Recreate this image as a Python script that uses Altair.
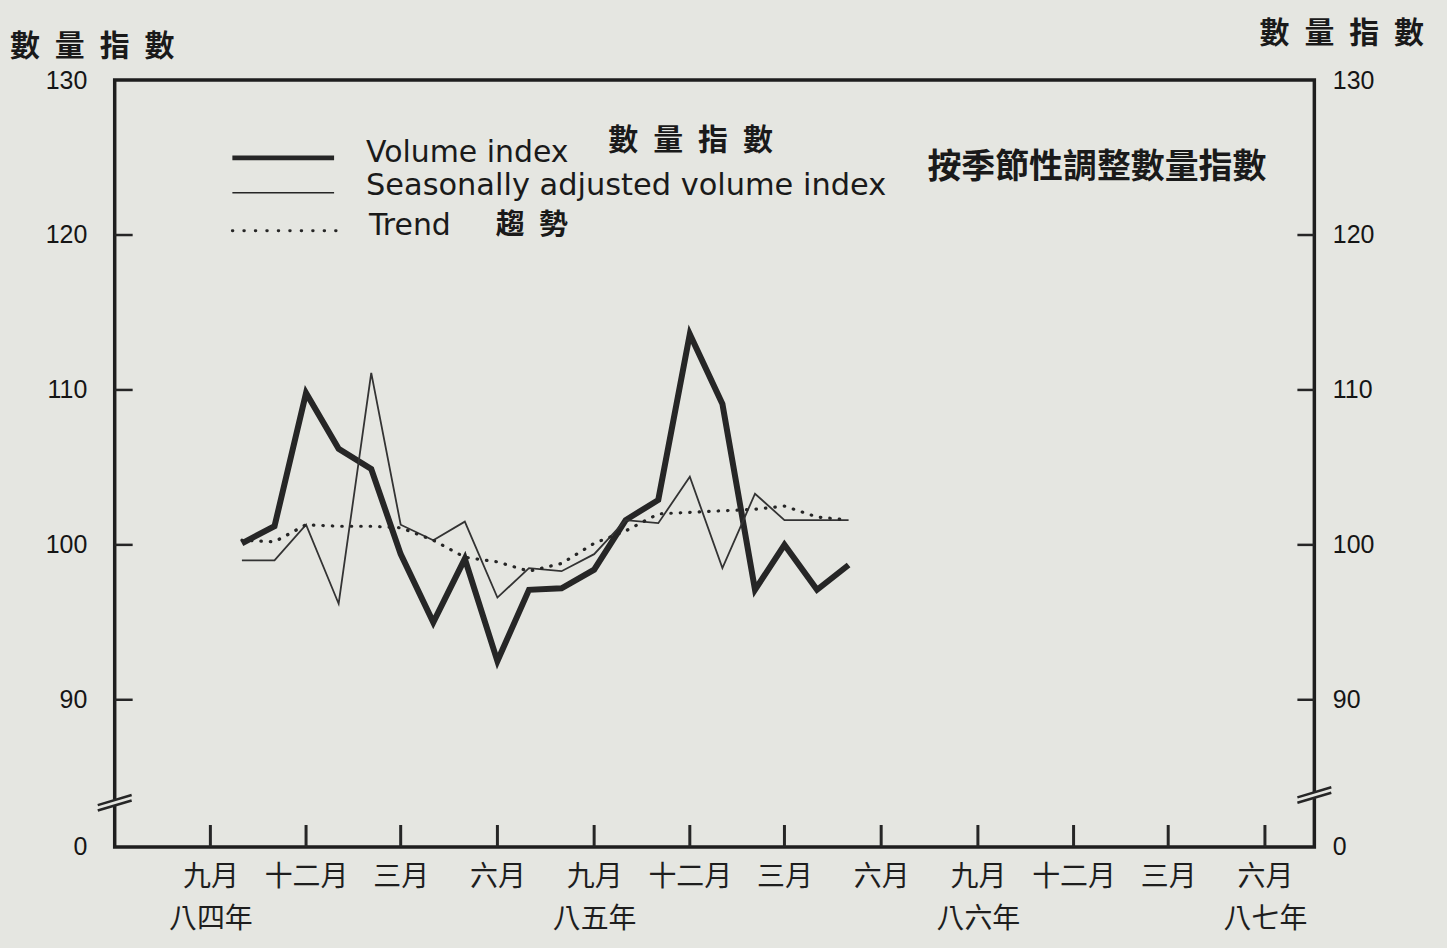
import altair as alt
import pandas as pd

# ---------------- data ----------------
months = ["1984-10", "1984-11", "1984-12", "1985-01", "1985-02", "1985-03",
          "1985-04", "1985-05", "1985-06", "1985-07", "1985-08", "1985-09",
          "1985-10", "1985-11", "1985-12", "1986-01", "1986-02", "1986-03",
          "1986-04", "1986-05"]
volume = [100.1, 101.2, 109.8, 106.2, 104.9, 99.4, 95.0, 99.1, 92.5, 97.1,
          97.2, 98.4, 101.6, 102.9, 113.6, 109.1, 97.1, 100.0, 97.1, 98.7]
adjusted = [99.0, 99.0, 101.3, 96.2, 111.1, 101.3, 100.3, 101.5, 96.6, 98.5,
            98.3, 99.4, 101.6, 101.4, 104.4, 98.5, 103.3, 101.6, 101.6, 101.6]
trend = [100.3, 100.2, 101.3, 101.2, 101.2, 101.1, 100.3, 99.2, 98.9, 98.3,
         98.8, 100.1, 100.9, 102.0, 102.1, 102.2, 102.3, 102.5, 101.8, 101.6]

tick_months = ["1984-09", "1984-12", "1985-03", "1985-06", "1985-09", "1985-12",
               "1986-03", "1986-06", "1986-09", "1986-12", "1987-03", "1987-06"]
month_names = {8: "九月", 11: "十二月", 2: "三月", 5: "六月"}   # JS month index
year_names = {(1984, 8): "八四年", (1985, 8): "八五年",
              (1986, 8): "八六年", (1987, 5): "八七年"}
y_ticks = [90, 100, 110, 120]
y_labels = [80.5, 90, 100, 110, 120, 130]   # 80.5 = broken-axis "0"

df = pd.DataFrame({
    "date": [m + "-01T00:00:00" for m in months],
    "volume": volume, "adjusted": adjusted, "trend": trend,
})
ticks_df = pd.DataFrame({"date": [m + "-01T00:00:00" for m in tick_months]})
yt_df = pd.DataFrame({"v": y_ticks})

# ---------------- geometry / style ----------------
W, H = 1203, 769
INK = "#262626"
BG = "#e5e6e1"
CJK = "Noto Sans CJK TC"
LAT = "DejaVu Sans"
SP = "\u2002"

x_scale = alt.Scale(domain=[alt.DateTime(year=1984, month=6, date=2),
                            alt.DateTime(year=1987, month=7, date=18)])
y_scale = alt.Scale(domain=[80.5, 130], nice=False, zero=False)

m_parts = [f"month(datum.value)=={k}?'{v}'" for k, v in month_names.items()]
m_expr = ":".join(m_parts) + ":''"
y_parts = [f"(year(datum.value)=={yy}&&month(datum.value)=={mm})?'{name}'"
           for (yy, mm), name in year_names.items()]
y_expr = ":".join(y_parts) + ":''"
x_axis = alt.Axis(
    values=[alt.DateTime(year=int(m[:4]), month=int(m[5:]), date=1) for m in tick_months],
    labelExpr=f"[{m_expr}, {y_expr}]",
    ticks=False, domain=False, grid=False, title=None,
    labelFont=CJK, labelFontSize=28, labelColor="#1e1e1e",
    labelLineHeight=42, labelPadding=17, labelFlush=False, labelOverlap=False,
)

num_axis_common = dict(
    values=y_labels, ticks=False, domain=False, grid=False, title=None,
    labelExpr="datum.value < 85 ? '0' : datum.label",
    labelFont="Liberation Sans", labelFontSize=25, labelColor="#151515",
)
left_axis = alt.Axis(orient="left", labelPadding=28, **num_axis_common)
right_axis = alt.Axis(orient="right", labelPadding=18, **num_axis_common)

base = alt.Chart(df)

vol_line = base.mark_line(color=INK, strokeWidth=6, strokeJoin="miter").encode(
    x=alt.X("date:T", scale=x_scale, axis=x_axis),
    y=alt.Y("volume:Q", scale=y_scale, axis=None),
)
adj_line = base.mark_line(color="#333333", strokeWidth=1.8).encode(
    x=alt.X("date:T", scale=x_scale, axis=x_axis),
    y=alt.Y("adjusted:Q", scale=y_scale, axis=None),
)
trend_line = base.mark_line(color=INK, strokeWidth=3.2, strokeDash=[0.5, 9],
                            strokeCap="round").encode(
    x=alt.X("date:T", scale=x_scale, axis=x_axis),
    y=alt.Y("trend:Q", scale=y_scale, axis=None),
)

# inward ticks
bottom_ticks = alt.Chart(ticks_df).mark_rule(color=INK, strokeWidth=3).encode(
    x=alt.X("date:T", scale=x_scale, axis=x_axis),
    y=alt.value(H), y2=alt.value(H - 22),
)
left_ticks = alt.Chart(yt_df).mark_rule(color=INK, strokeWidth=2.5).encode(
    y=alt.Y("v:Q", scale=y_scale, axis=left_axis),
    x=alt.value(0), x2=alt.value(18),
)
right_ticks = alt.Chart(yt_df).mark_rule(color=INK, strokeWidth=2.5).encode(
    y=alt.Y("v:Q", scale=y_scale, axis=right_axis),
    x=alt.value(W - 17), x2=alt.value(W),
)

one = alt.Data(values=[{}])

def brk(x0, x1, ya, yb, color=INK, sw=2.5):
    return alt.Chart(one).mark_rule(color=color, strokeWidth=sw).encode(
        x=alt.value(x0), x2=alt.value(x1),
        y=alt.Y(datum=ya, scale=y_scale, axis=None),
        y2=alt.Y2(datum=yb),
    )

def gap(xp, ya, yb):
    return alt.Chart(one).mark_rule(color=BG, strokeWidth=7).encode(
        x=alt.value(xp),
        y=alt.Y(datum=ya, scale=y_scale, axis=None),
        y2=alt.Y2(datum=yb),
    )

breaks = [
    gap(0, 83.15, 83.55),
    brk(-17, 17, 82.85, 83.5), brk(-17, 17, 83.2, 83.85),
    gap(W, 83.65, 84.05),
    brk(W - 17, W + 17, 83.35, 84.0), brk(W - 17, W + 17, 83.7, 84.35),
]

# legend and axis titles (drawn by hand)
def seg(x0, x1, yp, **kw):
    return alt.Chart(one).mark_rule(color=INK, **kw).encode(
        x=alt.value(x0), x2=alt.value(x1), y=alt.value(yp))

def txt(s, xp, yp, font, size, weight="normal", align="left"):
    return alt.Chart(one).mark_text(
        text=s, font=font, fontSize=size, fontWeight=weight, color="#1a1a1a",
        align=align, baseline="middle").encode(x=alt.value(xp), y=alt.value(yp))

texts = [
    txt(SP.join("數量指數"), -105, -33, CJK, 30, "bold"),
    txt(SP.join("數量指數"), W + 110, -46, CJK, 30, "bold", align="right"),
    seg(118, 220, 78, strokeWidth=5),
    seg(118, 220, 113, strokeWidth=1.6),
    seg(118, 222, 151, strokeWidth=3, strokeDash=[0.5, 11], strokeCap="round"),
    txt("Volume index", 252, 73, LAT, 30),
    txt(SP.join("數量指數"), 495, 61, CJK, 30, "bold"),
    txt("Seasonally adjusted volume index", 252, 106, LAT, 30.5),
    txt("按季節性調整數量指數", 815, 88, CJK, 34, "bold"),
    txt("Trend", 255, 146, LAT, 30),
    txt(SP.join("趨勢"), 382, 145, CJK, 29, "bold"),
]

chart = alt.layer(
    vol_line, adj_line, trend_line, bottom_ticks, left_ticks, right_ticks,
    *breaks, *texts,
).resolve_scale(y="independent").properties(
    width=W, height=H,
    padding={"left": 107, "top": 71, "right": 125, "bottom": 90},
    autosize=alt.AutoSizeParams(type="none"),
    background=BG,
).configure_view(stroke="#1e1e1e", strokeWidth=3.5)

chart.save("out.html", embed_options={"renderer": "svg", "actions": False})

# paint the page margin the same paper colour as the chart
with open("out.html", encoding="utf-8") as f:
    html = f.read()
html = html.replace("<head>", "<head>\n<style>html, body { background: %s; }</style>" % BG, 1)
with open("out.html", "w", encoding="utf-8") as f:
    f.write(html)
